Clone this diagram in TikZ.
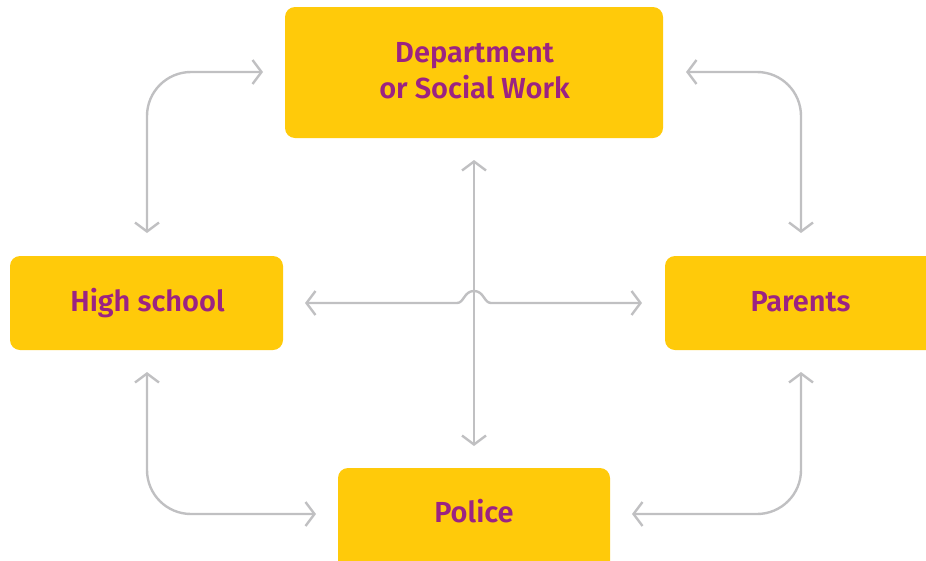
\documentclass[tikz,border=0pt]{standalone}
\usepackage{fontspec}
\setmainfont{Fira Sans}[BoldFont={* SemiBold}]
\usetikzlibrary{arrows.meta}
\definecolor{boxfill}{HTML}{FFCA0A}
\definecolor{boxtext}{HTML}{9B2383}
\definecolor{linegray}{HTML}{C0C0C2}
\tikzset{
  box/.style={fill=boxfill, rounded corners=10pt, inner sep=0pt},
  lbl/.style={inner sep=0pt, anchor=base, align=center,
    text=boxtext, font=\bfseries\fontsize{29}{36}\selectfont},
  conn/.style={draw=linegray, line width=2.4pt, rounded corners=44pt,
    arrows={Straight Barb[length=9pt,width=24pt,line width=2.4pt]-Straight Barb[length=9pt,width=24pt,line width=2.4pt]}}
}
\begin{document}
\begin{tikzpicture}[x=1pt,y=-1pt]
\useasboundingbox (0,0) rectangle (926,560);
\node[box, minimum width=378pt, minimum height=131pt] (dep) at (474,72.5) {};
\node[box, minimum width=273pt, minimum height=94pt] (hs) at (146.5,303) {};
\node[box, minimum width=272pt, minimum height=94pt] (par) at (801,303) {};
\node[box, minimum width=272pt, minimum height=112pt] (pol) at (474,524) {};
\node[lbl] (depT) at (474.5,98) {Department\\or Social Work};
\node[lbl] (hsT) at (147.5,311) {High school};
\node[lbl] (parT) at (800.5,311) {Parents};
\node[lbl] (polT) at (474,522) {Police};
\coordinate (tlA) at (147,233);
\coordinate (tlB) at (263,72);
\coordinate (trA) at (686,72);
\coordinate (trB) at (801,233);
\coordinate (brA) at (801,372);
\coordinate (brB) at (632,514);
\coordinate (blA) at (147,372);
\coordinate (blB) at (316,514);
\coordinate (vA) at (474,160);
\coordinate (vB) at (474,446);
\coordinate (hA) at (305,303);
\coordinate (hB) at (642,303);
\draw[conn] (tlA) |- (tlB);
\draw[conn] (trA) -| (trB);
\draw[conn] (brA) |- (brB);
\draw[conn] (blA) |- (blB);
\draw[conn] (vA) -- (vB);
\draw[conn, rounded corners=0pt] (hA) -- (457,303) .. controls (464,303) and (464,291) .. (474,291) .. controls (484,291) and (484,303) .. (491,303) -- (hB);
\end{tikzpicture}
\end{document}
